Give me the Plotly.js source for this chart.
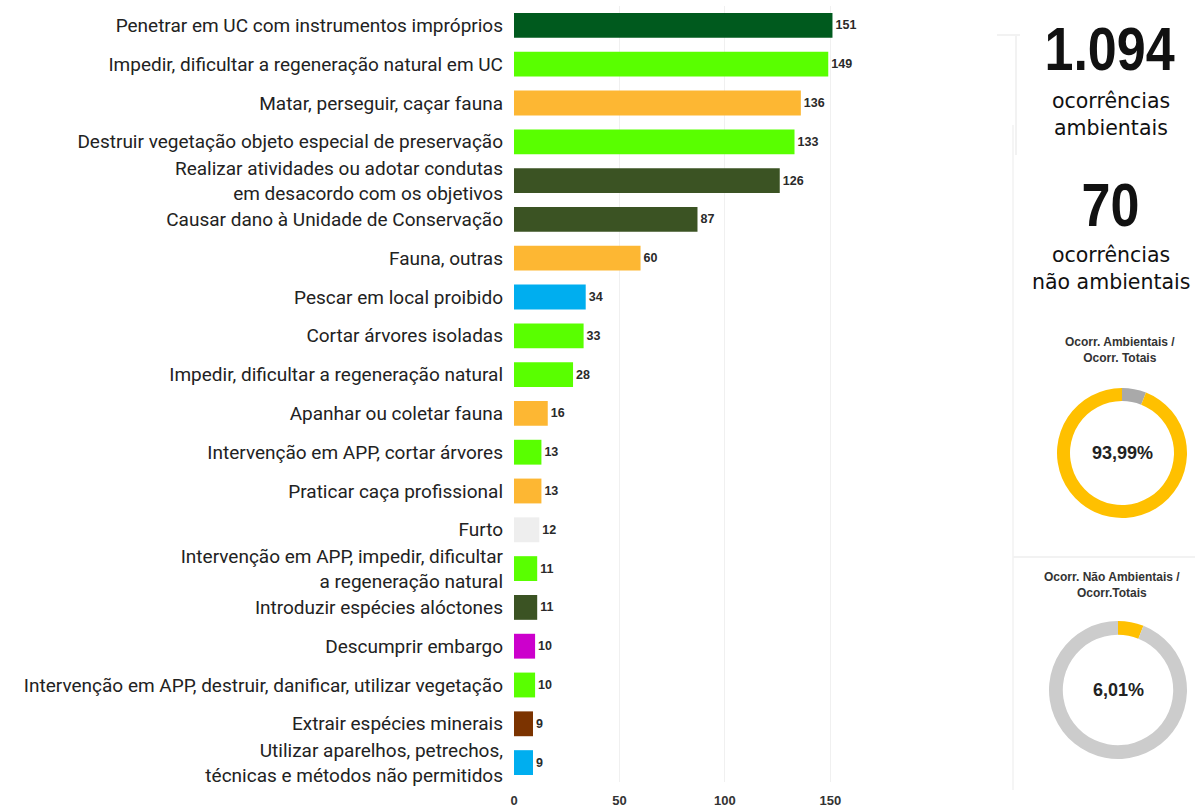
<!DOCTYPE html>
<html>
<head>
<meta charset="utf-8">
<script src="https://cdn.plot.ly/plotly-3.0.1.min.js"></script>
<style>
html,body{margin:0;padding:0;background:#fff;}
#chart{width:1195px;height:807px;}
.narrow-num{transform-box:fill-box;transform-origin:center;transform:scaleX(0.84);}
</style>
</head>
<body>
<div id="chart"></div>
<script>
const categories = [
  "Penetrar em UC com instrumentos impróprios",
  "Impedir, dificultar a regeneração natural em UC",
  "Matar, perseguir, caçar fauna",
  "Destruir vegetação objeto especial de preservação",
  "Realizar atividades ou adotar condutas<br>em desacordo com os objetivos",
  "Causar dano à Unidade de Conservação",
  "Fauna, outras",
  "Pescar em local proibido",
  "Cortar árvores isoladas",
  "Impedir, dificultar a regeneração natural",
  "Apanhar ou coletar fauna",
  "Intervenção em APP, cortar árvores",
  "Praticar caça profissional",
  "Furto",
  "Intervenção em APP, impedir, dificultar<br>a regeneração natural",
  "Introduzir espécies alóctones",
  "Descumprir embargo",
  "Intervenção em APP, destruir, danificar, utilizar vegetação",
  "Extrair espécies minerais",
  "Utilizar aparelhos, petrechos,<br>técnicas e métodos não permitidos"
];
const counts = [151, 149, 136, 133, 126, 87, 60, 34, 33, 28, 16, 13, 13, 12, 11, 11, 10, 10, 9, 9];
const barColors = ["#005a1e", "#59ff00", "#fdb733", "#59ff00", "#3b5323", "#3b5323", "#fdb733", "#00aeef",
  "#59ff00", "#59ff00", "#fdb733", "#59ff00", "#fdb733", "#eeeeee", "#59ff00", "#3b5323",
  "#cc00cc", "#59ff00", "#7b3300", "#00aeef"];
const xTicks = [0, 50, 100, 150];

const totalAmbLabel = "1.094";
const totalNaoAmbLabel = "70";
const totalAmb = 1094;
const totalNaoAmb = 70;
const pctAmbLabel = "93,99%";
const pctNaoAmbLabel = "6,01%";
const donutLabels = ["Não ambientais", "Ambientais"];
const donutValues = [totalNaoAmb, totalAmb];

const W = 1195, TOP = 6, BOT = 782;
const px = x => x / W;
const py = y => (BOT - y) / (BOT - TOP);

const bar = {
  type: "bar", orientation: "h",
  y: categories, x: counts,
  marker: {color: barColors},
  width: 0.64,
  text: counts.map(String), textposition: "outside", cliponaxis: false,
  textfont: {family: "Arial, Liberation Sans", size: 12.5, color: "#2a2a2a", weight: "bold"},
  hoverinfo: "x+y"
};

const donut1 = {
  type: "pie", hole: 0.8, sort: false, direction: "clockwise", rotation: 0,
  labels: donutLabels, values: donutValues,
  marker: {colors: ["#a9a9a9", "#ffc000"], line: {width: 0}},
  textinfo: "none", showlegend: false,
  domain: {x: [px(1057), px(1187)], y: [py(518), py(388)]}
};
const donut2 = {
  type: "pie", hole: 0.8, sort: false, direction: "clockwise", rotation: 0,
  labels: donutLabels, values: donutValues,
  marker: {colors: ["#ffc000", "#cccccc"], line: {width: 0}},
  textinfo: "none", showlegend: false,
  domain: {x: [px(1049), px(1187)], y: [py(759), py(621)]}
};

const medFont = {family: "DejaVu Sans, Noto Sans", size: 20.5, color: "#111"};
const ann = (x, y, text, font) => ({
  xref: "paper", yref: "paper", x: px(x), y: py(y), text: text, showarrow: false,
  xanchor: "center", yanchor: "middle", font: font || medFont
});

const bigFont = {family: "Liberation Sans, Arial", size: 62, color: "#111", weight: "bold"};
const smallTitleFont = {family: "Arial, Liberation Sans", size: 12, color: "#333", weight: "bold"};
const pctFont = {family: "Arial, Liberation Sans", size: 18, color: "#222", weight: "bold"};

const layout = {
  width: 1195, height: 807,
  margin: {l: 0, r: 0, t: TOP, b: 807 - BOT},
  paper_bgcolor: "#fff", plot_bgcolor: "#fff",
  showlegend: false,
  xaxis: {
    domain: [px(514), px(862)], range: [0, 165],
    tickvals: xTicks, ticktext: xTicks.map(String),
    showgrid: true, gridcolor: "#f0f0f0", zeroline: false,
    showline: false, ticks: "", ticklabelstandoff: 9,
    tickfont: {family: "Arial, Liberation Sans", size: 13, color: "#333", weight: "bold"},
    fixedrange: true
  },
  yaxis: {
    type: "category", autorange: "reversed",
    showgrid: false, zeroline: false, showline: false, ticks: "",
    ticklabelstandoff: 10,
    tickfont: {family: "Roboto, Noto Sans", size: 19, color: "#222"},
    fixedrange: true
  },
  annotations: [
    ann(1110, 48, totalAmbLabel, bigFont),
    ann(1111, 101, "ocorrências"),
    ann(1111, 128, "ambientais"),
    ann(1110, 204, totalNaoAmbLabel, bigFont),
    ann(1111, 255, "ocorrências"),
    ann(1111, 282, "não ambientais"),
    ann(1120, 350, "Ocorr. Ambientais /<br>Ocorr. Totais", smallTitleFont),
    ann(1122, 453, pctAmbLabel, pctFont),
    ann(1112, 585, "Ocorr. Não Ambientais /<br>Ocorr.Totais", smallTitleFont),
    ann(1118, 690, pctNaoAmbLabel, pctFont)
  ],
  shapes: [
    {type: "line", xref: "paper", yref: "paper", x0: px(997), x1: px(1020), y0: py(35), y1: py(35), line: {color: "#f2f2f2", width: 2}},
    {type: "line", xref: "paper", yref: "paper", x0: px(1016), x1: px(1016), y0: py(35), y1: py(155), line: {color: "#f2f2f2", width: 2}},
    {type: "line", xref: "paper", yref: "paper", x0: px(1013), x1: px(1013), y0: py(125), y1: py(790), line: {color: "#f5f5f5", width: 2}},
    {type: "line", xref: "paper", yref: "paper", x0: px(1013), x1: px(1195), y0: py(557), y1: py(557), line: {color: "#f2f2f2", width: 2}}
  ]
};

const gd = document.getElementById("chart");
function narrowBigNumbers() {
  gd.querySelectorAll(".annotation-text").forEach(t => {
    const s = t.textContent;
    if (s === totalAmbLabel || s === totalNaoAmbLabel) t.classList.add("narrow-num");
  });
}
Plotly.newPlot(gd, [bar, donut1, donut2], layout, {displayModeBar: false, staticPlot: true}).then(narrowBigNumbers);
gd.on && gd.on("plotly_afterplot", narrowBigNumbers);
</script>
</body>
</html>
